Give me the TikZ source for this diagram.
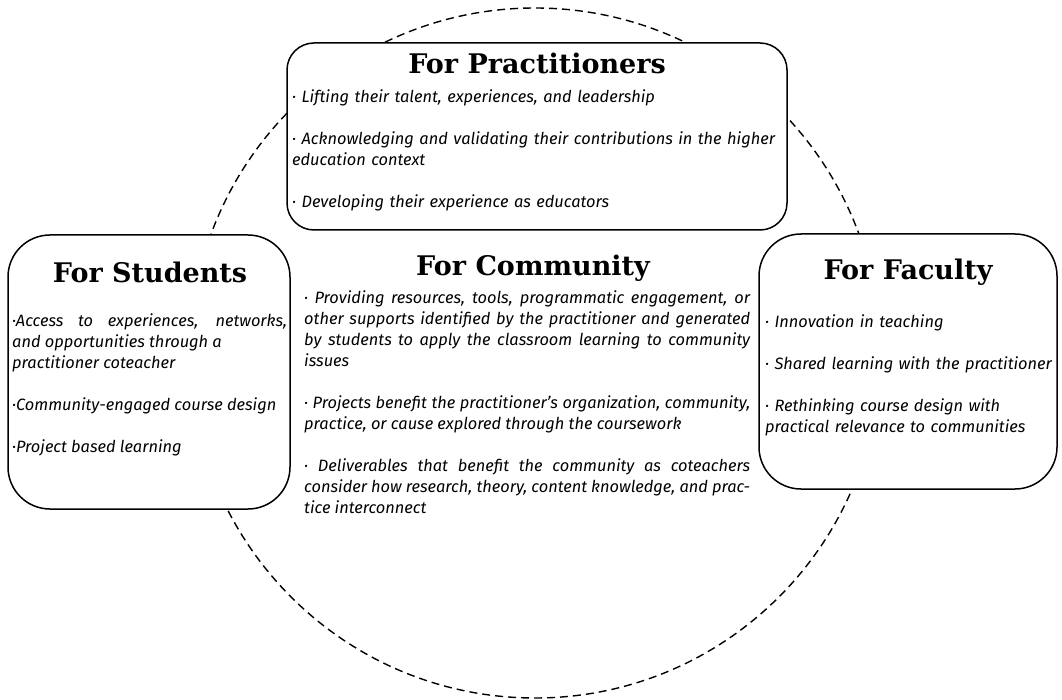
\documentclass[tikz,border=0pt]{standalone}
\usepackage{fontspec}
\setmainfont{Fira Sans}
\newfontfamily\headfont{DejaVu Serif}

\tikzset{
    panel/.style={draw, line width=1.5pt, fill=white},
    headline/.style={font=\headfont\bfseries\fontsize{27}{32}\selectfont, inner sep=0pt},
    bullets/.style={font=\itshape\fontsize{16.4}{21}\selectfont, anchor=north west, inner sep=0pt}
}

\begin{document}
\begin{tikzpicture}[x=1pt,y=-1pt]
    \useasboundingbox (0,0) rectangle (1062,700);

    % the dashed ring behind everything
    \draw [dash pattern=on 8pt off 5pt, line width=1.4pt] (535,353) circle (345pt);

    % the four panels
    \draw [panel, rounded corners=27pt] (287,43) rectangle (787,230);
    \draw [panel, rounded corners=42pt] (8,235) rectangle (290,509);
    \draw [panel, rounded corners=42pt] (759,234) rectangle (1057,489);

    % practitioners
    \node [headline] (practhead) at (537,63) {For Practitioners};
    \node [bullets, text width=490pt, align=left] (practtext) at (292,90) {%
        · Lifting their talent, experiences, and leadership\\[21pt]
        · Acknowledging and validating their contributions in the higher\\
        education context\\[21pt]
        · Developing their experience as educators};

    % students
    \node [headline] (studhead) at (150,272) {For Students};
    \node [bullets, text width=275pt, align=justify] (studtext) at (12,314) {%
        ·Access to experiences, networks,\linebreak
        and opportunities through a\\
        practitioner coteacher\\[21pt]
        ·Community-engaged course design\\[21pt]
        ·Project based learning};

    % community
    \node [headline] (commhead) at (533,268) {For Community};
    \node [bullets, text width=446pt, align=justify] (commtext) at (304,291) {%
        · Providing resources, tools, programmatic engagement, or\linebreak
        other supports identified by the practitioner and generated\linebreak
        by students to apply the classroom learning to community\linebreak
        issues\\[21pt]
        · Projects benefit the practitioner’s organization, community,\linebreak
        practice, or cause explored through the coursework\\[21pt]
        · Deliverables that benefit the community as coteachers\linebreak
        consider how research, theory, content knowledge, and prac-\linebreak
        tice interconnect};

    % faculty
    \node [headline] (facuhead) at (908,272) {For Faculty};
    \node [bullets, text width=290pt, align=left] (facutext) at (765,315) {%
        · Innovation in teaching\\[21pt]
        · Shared learning with the practitioner\\[21pt]
        · Rethinking course design with\\
        practical relevance to communities};
\end{tikzpicture}
\end{document}
